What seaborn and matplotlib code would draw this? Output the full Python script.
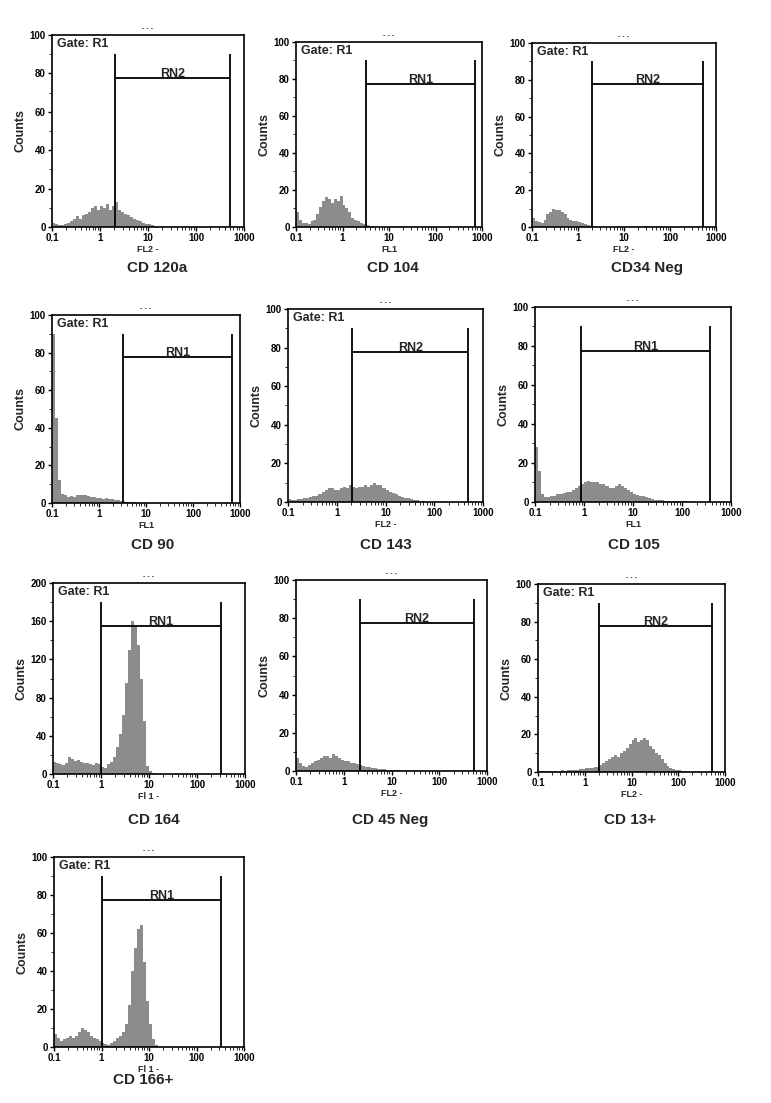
import numpy as np
import matplotlib
matplotlib.use("Agg")
import matplotlib.pyplot as plt
import seaborn as sns
from matplotlib.ticker import FixedLocator, LogLocator, NullFormatter, MultipleLocator

sns.set_theme(style="white")
plt.rcParams['font.family'] = ['Liberation Sans', 'DejaVu Sans']

# ---------------- data ----------------
LOG_MIN, LOG_MAX, N_BINS = -1, 3, 64   # 16 channels per decade, 0.1 .. 1000
channel_centers = 10 ** (LOG_MIN + (np.arange(N_BINS) + 0.5) * (LOG_MAX - LOG_MIN) / N_BINS)

panel_names = ["CD 120a", "CD 104", "CD34 Neg", "CD 90", "CD 143", "CD 105",
               "CD 164", "CD 45 Neg", "CD 13+", "CD 166+"]
detector_labels = ["FL2 -", "FL1", "FL2 -", "FL1", "FL2 -", "FL1",
                   "Fl 1 -", "FL2 -", "FL2 -", "Fl 1 -"]
gate_names = ["RN2", "RN1", "RN2", "RN1", "RN2", "RN1", "RN1", "RN2", "RN2", "RN1"]
gate_low = [2.1, 3.25, 2.0, 3.3, 2.1, 0.88, 1.0, 2.15, 2.05, 1.02]
gate_high = [510, 690, 510, 690, 490, 370, 316, 535, 520, 335]
y_max = [100, 100, 100, 100, 100, 100, 200, 100, 100, 100]
show_gate_r1 = [True, True, True, True, True, False, True, False, True, True]
x_tick_values = [0.1, 1, 10, 100, 1000]
x_tick_labels = ["0.1", "1", "10", "100", "1000"]

counts_cd120a = [2, 1.5, 1, 1, 1.5, 2, 3, 4, 5.5, 4, 6, 7, 8, 10, 11, 9,
                 11, 10, 12, 9, 11, 13, 9, 8, 7, 6, 5, 4, 3.5, 3, 2, 1.5,
                 1.5, 1, 0.5, 0, 0, 0, 0, 0, 0, 0, 0, 0, 0, 0, 0, 0,
                 0, 0, 0, 0, 0, 0, 0, 0, 0, 0, 0, 0, 0, 0, 0, 0]
counts_cd104 = [8, 4, 2, 2, 1.5, 3, 4, 7, 11, 14, 16, 15, 13, 15, 14, 17,
                12, 10, 8, 5, 4, 3, 2, 1.5, 1, 0.5, 0.3, 0, 0, 0, 0, 0,
                0, 0, 0, 0.3, 0, 0, 0, 0, 0, 0, 0, 0, 0, 0, 0, 0,
                0, 0, 0, 0, 0, 0, 0, 0, 0, 0, 0, 0, 0, 0, 0, 0]
counts_cd34 = [5, 3, 2.5, 2, 4, 7, 8, 10, 9, 9, 8, 7, 5, 4, 3.5, 3,
               2.5, 2, 1.5, 1, 0.5, 0, 0, 0, 0, 0, 0, 0, 0, 0, 0, 0,
               0, 0, 0, 0, 0, 0, 0, 0.4, 0, 0, 0, 0, 0, 0, 0, 0,
               0, 0, 0, 0, 0, 0, 0, 0, 0, 0, 0, 0, 0, 0, 0, 0]
counts_cd90 = [90, 45, 12, 5, 4, 3, 3.5, 3, 4, 4.5, 4, 4, 3.5, 3, 3, 2.5,
               2.5, 2, 2.5, 2, 2, 1.5, 1.5, 1, 0.8, 0.5, 0.5, 0.3, 0.3, 0, 0, 0,
               0, 0, 0, 0, 0, 0, 0, 0, 0, 0, 0, 0, 0, 0, 0, 0,
               0, 0, 0, 0, 0, 0, 0, 0, 0, 0, 0, 0, 0, 0, 0, 0]
counts_cd143 = [1.5, 1, 1, 1.5, 1.5, 2, 2, 2.5, 3, 3, 4, 5, 6, 7, 7, 6,
                6, 7, 8, 7, 9, 8, 7, 8, 8, 9, 8, 9, 10, 9, 9, 7,
                6, 5, 4.5, 4, 3, 2.5, 2, 2, 1.5, 1, 1, 0.5, 0.3, 0, 0, 0,
                0, 0, 0, 0, 0, 0, 0, 0, 0, 0, 0, 0, 0, 0, 0, 0]
counts_cd105 = [28, 16, 4, 2.5, 2.5, 3, 3, 4, 4, 4.5, 5, 5, 6, 7, 8, 9,
                10, 11, 10, 10, 10, 9, 9, 8, 7, 7, 8, 9, 8, 7, 6, 5,
                4, 3.5, 3, 3, 2.5, 2, 1.5, 1, 1, 0.8, 0.6, 0.5, 0.5, 0.5, 0.3, 0.3,
                0.5, 0.3, 0, 0, 0, 0, 0, 0, 0, 0, 0, 0, 0, 0, 0, 0]
counts_cd164 = [13, 11, 10, 9, 12, 18, 16, 14, 15, 13, 12, 11, 10, 9, 12, 10,
                7, 6, 10, 13, 18, 28, 42, 62, 95, 130, 160, 155, 135, 100, 55, 8,
                3, 1, 0.5, 0, 0, 0, 0, 0, 0, 0, 0, 0, 0, 0, 0, 0,
                0, 0, 0, 0, 0, 0, 0, 0, 0, 0, 0, 0, 0, 0, 0, 0]
counts_cd45 = [7, 4, 2.5, 2, 3, 4, 5, 6, 7, 8, 8, 7, 9, 8, 7, 6,
               5, 5, 4, 4, 3.5, 3, 2.5, 2, 2, 1.5, 1.5, 1, 1, 0.8, 0.5, 0.5,
               0.5, 0.3, 0.3, 0, 0, 0, 0, 0, 0, 0, 0, 0, 0, 0, 0, 0,
               0, 0, 0, 0, 0, 0, 0, 0, 0, 0, 0, 0, 0, 0, 0, 0]
counts_cd13 = [0.5, 0.3, 0.5, 0.3, 0.5, 0.3, 0.5, 0.5, 0.8, 0.5, 0.8, 1, 1, 1, 1.5, 1.5,
               2, 2, 2, 2.5, 2.5, 3.5, 5, 6, 7, 8, 9, 8, 10, 11, 13, 15,
               17, 18, 16, 17, 18, 17, 14, 12, 10, 9, 7, 5, 3, 2, 1.5, 1,
               1, 0.5, 0.3, 0, 0, 0, 0, 0, 0, 0, 0, 0, 0, 0, 0, 0]
counts_cd166 = [7, 5, 3, 4, 5, 6, 5, 6, 8, 10, 9, 8, 6, 5, 4, 3,
                2, 1.5, 1, 2, 3, 5, 6, 8, 12, 22, 40, 52, 62, 64, 45, 24,
                12, 4, 1, 0, 0, 0, 0, 0, 0, 0, 0, 0, 0, 0, 0, 0,
                0, 0, 0, 0, 0, 0, 0, 0, 0, 0, 0, 0, 0, 0, 0, 0]

all_counts = [counts_cd120a, counts_cd104, counts_cd34, counts_cd90, counts_cd143,
              counts_cd105, counts_cd164, counts_cd45, counts_cd13, counts_cd166]

# ---------------- layout (pixel boxes: left, top, right, bottom) ----------------
W, H = 771, 1103
boxes = [(52, 35, 244, 227), (296, 42, 482, 227), (532, 43, 716, 227),
         (52, 315, 240, 503), (288, 309, 483, 502), (535, 307, 731, 502),
         (53, 583, 245, 774), (296, 580, 487, 771), (538, 584, 725, 772),
         (54, 857, 244, 1047)]
caption_xy = [(157, 268), (393, 268), (647, 268),
              (153, 545), (386, 545), (634, 545),
              (154, 820), (390, 820), (630, 820),
              (143, 1080)]

fig = plt.figure(figsize=(W / 100, H / 100), dpi=100)
fig.patch.set_facecolor("white")

HIST_COLOR = "#8c8c8c"
for i, counts in enumerate(all_counts):
    l, t, r, b = boxes[i]
    ax = fig.add_axes([l / W, 1 - b / H, (r - l) / W, (b - t) / H])
    sns.histplot(x=channel_centers, weights=counts, bins=N_BINS,
                 binrange=(LOG_MIN, LOG_MAX), log_scale=True, ax=ax,
                 color=HIST_COLOR, edgecolor=None, linewidth=0, alpha=1.0)
    ax.set_xlim(0.1, 1000)
    ax.set_ylim(0, y_max[i])

    # gate marker
    gh = 0.9 * y_max[i]
    gy = 0.775 * y_max[i]
    ax.vlines([gate_low[i], gate_high[i]], 0, gh, colors="black", linewidth=1.3)
    ax.hlines(gy, gate_low[i], gate_high[i], colors="black", linewidth=1.3)
    ax.text(np.sqrt(gate_low[i] * gate_high[i]), gy + 0.005 * y_max[i], gate_names[i],
            ha="center", va="baseline", fontsize=9, fontweight="bold")
    if show_gate_r1[i]:
        ax.text(0.025, 0.985, "Gate: R1", transform=ax.transAxes, ha="left", va="top",
                fontsize=9, fontweight="bold")
    ax.annotate("- - -", xy=(0.5, 1.0), xycoords="axes fraction", xytext=(0, 2),
                textcoords="offset points", ha="center", va="bottom", fontsize=5,
                color="#333333", fontweight="bold")

    # axes styling
    for sp in ax.spines.values():
        sp.set_visible(True)
        sp.set_color("black")
        sp.set_linewidth(1.2)
    ax.xaxis.set_major_locator(FixedLocator(x_tick_values))
    ax.set_xticklabels(x_tick_labels)
    ax.xaxis.set_minor_locator(LogLocator(base=10, subs=np.arange(2, 10)))
    ax.xaxis.set_minor_formatter(NullFormatter())
    step = y_max[i] / 5
    ax.yaxis.set_major_locator(MultipleLocator(step))
    ax.yaxis.set_minor_locator(MultipleLocator(step / 2))
    ax.tick_params(axis="both", which="major", direction="out", length=3, width=1,
                   labelsize=7, pad=1.5, bottom=True, left=True, colors="black")
    ax.tick_params(axis="both", which="minor", direction="out", length=2, width=0.7,
                   bottom=True, left=True)
    for lab in ax.get_xticklabels() + ax.get_yticklabels():
        lab.set_fontweight("bold")
    ax.set_ylabel("Counts", fontsize=9, fontweight="bold", labelpad=2)
    ax.set_xlabel(detector_labels[i], fontsize=6.5, fontweight="bold", labelpad=1)

    cx, cy = caption_xy[i]
    fig.text(cx / W, 1 - cy / H, panel_names[i], ha="center", va="center",
             fontsize=11, fontweight="bold")

fig.savefig("out.png", dpi=100, facecolor="white")
